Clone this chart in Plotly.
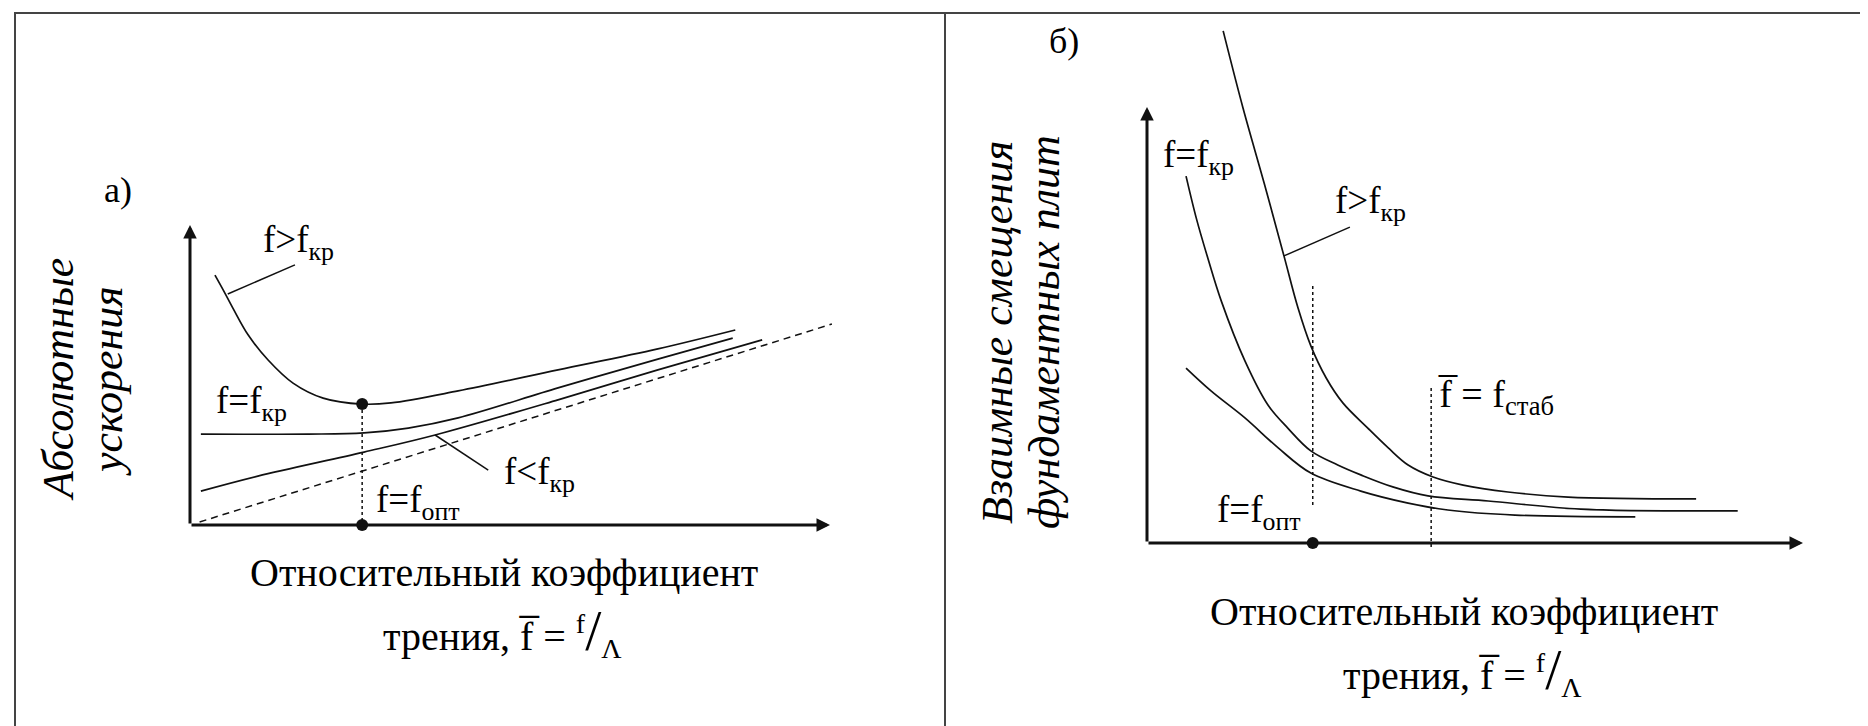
import plotly.graph_objects as go

W, H = 1868, 726

# ---------------- Panel а) : absolute accelerations vs relative friction ----------------
a_dash_x = [0.15, 10.03]
a_dash_y = [0.10, 6.70]
a_low_x = [0.17, 1.06, 2.72, 3.83, 5.75, 7.31, 8.94]
a_low_y = [1.13, 1.63, 2.43, 3.00, 4.17, 5.17, 6.17]
a_crit_x = [0.17, 1.84, 2.72, 3.41, 4.19, 5.75, 7.31, 8.48]
a_crit_y = [3.03, 3.03, 3.07, 3.23, 3.57, 4.57, 5.53, 6.23]
a_high_x = [0.39, 0.52, 0.67, 0.91, 1.22, 1.61, 2.08, 2.69, 3.14, 4.19, 5.75, 7.31, 8.52]
a_high_y = [8.33, 7.83, 7.23, 6.33, 5.50, 4.73, 4.23, 4.03, 4.07, 4.47, 5.17, 5.87, 6.50]
a_opt_x = 2.69
a_opt_y = 4.03
a_lead_high_x = [0.59, 1.64]
a_lead_high_y = [7.70, 8.67]
a_lead_low_x = [3.83, 4.66]
a_lead_low_y = [3.00, 1.83]
a_axis_x_end = 10.0
a_axis_y_end = 10.0

# ---------------- Panel б) : mutual displacements vs relative friction ----------------
b_high_x = [1.19, 1.50, 1.83, 2.14, 2.36, 2.56, 2.80, 3.06, 3.45, 3.77, 4.08, 4.47, 4.94, 5.64, 6.58, 8.58]
b_high_y = [17.07, 14.5, 12.0, 9.57, 7.83, 6.57, 5.50, 4.67, 3.83, 3.17, 2.60, 2.20, 1.93, 1.70, 1.53, 1.47]
b_crit_x = [0.61, 0.77, 0.95, 1.16, 1.53, 1.89, 2.20, 2.56, 2.98, 3.34, 3.84, 4.39, 5.33, 6.78, 9.23]
b_crit_y = [12.23, 10.83, 9.50, 8.07, 6.07, 4.60, 3.83, 3.07, 2.60, 2.27, 1.87, 1.57, 1.40, 1.13, 1.07]
b_low_x = [0.61, 1.00, 1.53, 2.05, 2.56, 3.34, 4.08, 4.70, 5.75, 7.63]
b_low_y = [5.83, 5.07, 4.17, 3.17, 2.33, 1.73, 1.33, 1.10, 0.93, 0.87]
b_opt_x = 2.59
b_opt_dot_top = [8.57, 1.27]
b_stab_x = 4.44
b_stab_span = [5.17, -0.17]
b_lead_high_x = [2.14, 3.17]
b_lead_high_y = [9.57, 10.53]
b_axis_x_end = 10.25
b_axis_y_end = 14.53

# ---------------- geometry of the two panels (pixels) ----------------
SX, SY = 64.0, 30.0
panels = {
    "a": dict(ox=182, oy=517, xr=[-0.5, 10.5], yr=[-0.5, 10.2]),
    "b": dict(ox=1139, oy=535, xr=[-0.5, 10.6], yr=[-0.6, 17.5]),
}

def dom(p):
    xd = [(p["ox"] + p["xr"][0] * SX) / W, (p["ox"] + p["xr"][1] * SX) / W]
    yd = [1 - (p["oy"] - p["yr"][0] * SY) / H, 1 - (p["oy"] - p["yr"][1] * SY) / H]
    return xd, yd

fig = go.Figure()
INK = "#111111"
LW = 1.7

def line(x, y, xa, ya, dash="solid", width=LW, shape="spline"):
    fig.add_trace(go.Scatter(x=x, y=y, mode="lines", xaxis=xa, yaxis=ya,
                             line=dict(color=INK, width=width, dash=dash, shape=shape, smoothing=1.0),
                             hoverinfo="skip", showlegend=False))

def dots(x, y, xa, ya):
    fig.add_trace(go.Scatter(x=x, y=y, mode="markers", xaxis=xa, yaxis=ya, cliponaxis=False,
                             marker=dict(color=INK, size=12), hoverinfo="skip", showlegend=False))

line(a_dash_x, a_dash_y, "x", "y", dash="7px,5px", width=1.5, shape="linear")
line(a_low_x, a_low_y, "x", "y")
line(a_crit_x, a_crit_y, "x", "y")
line(a_high_x, a_high_y, "x", "y")
line([a_opt_x, a_opt_x], [a_opt_y, 0], "x", "y", dash="dot", width=1.5, shape="linear")
line(a_lead_high_x, a_lead_high_y, "x", "y", width=1.5, shape="linear")
line(a_lead_low_x, a_lead_low_y, "x", "y", width=1.5, shape="linear")
dots([a_opt_x, a_opt_x], [a_opt_y, 0], "x", "y")

line(b_high_x, b_high_y, "x2", "y2")
line(b_crit_x, b_crit_y, "x2", "y2")
line(b_low_x, b_low_y, "x2", "y2")
line([b_opt_x, b_opt_x], b_opt_dot_top, "x2", "y2", dash="dot", width=1.5, shape="linear")
line([b_stab_x, b_stab_x], b_stab_span, "x2", "y2", dash="dot", width=1.5, shape="linear")
line(b_lead_high_x, b_lead_high_y, "x2", "y2", width=1.5, shape="linear")
dots([b_opt_x], [0], "x2", "y2")

anns = []
for xa, ya, xe, ye in [("x", "y", a_axis_x_end, a_axis_y_end), ("x2", "y2", b_axis_x_end, b_axis_y_end)]:
    anns.append(dict(x=xe, y=0, ax=0, ay=0, xref=xa, yref=ya, axref=xa, ayref=ya, text="",
                     showarrow=True, arrowhead=2, arrowsize=0.9, arrowwidth=3, arrowcolor=INK))
    anns.append(dict(x=0, y=ye, ax=0, ay=0, xref=xa, yref=ya, axref=xa, ayref=ya, text="",
                     showarrow=True, arrowhead=2, arrowsize=0.9, arrowwidth=3, arrowcolor=INK))

FONT = "Liberation Serif, DejaVu Serif, serif"

def txt(text, px, py, size, angle=0):
    anns.append(dict(text=text, x=px / W, y=1 - py / H, xref="paper", yref="paper", showarrow=False,
                     font=dict(family=FONT, size=size, color="black"), textangle=angle,
                     xanchor="center", yanchor="middle"))

LS = 37
# panel а)
txt("а)", 110, 182, 36)
txt("f&gt;f<sub>кр</sub>", 290, 234, LS)
txt("f=f<sub>кр</sub>", 243, 396, LS)
txt("f&lt;f<sub>кр</sub>", 531, 466, LS)
txt("f=f<sub>опт</sub>", 410, 495, LS)
txt("<i>Абсолютные</i>", 51, 372, 44, angle=-90)
txt("<i>ускорения</i>", 99, 373, 44, angle=-90)

# panel б)
txt("б)", 1056, 33, 36)
txt("f=f<sub>кр</sub>", 1190, 150, LS)
txt("f&gt;f<sub>кр</sub>", 1362, 195, LS)
txt("f=f<sub>опт</sub>", 1251, 504, LS)
txt("f\u0305 = f<sub>стаб</sub>", 1488, 389, 38)
txt("<i>Взаимные смещения</i>", 989, 324, 44, angle=-90)
txt("<i>фундаментных плит</i>", 1036, 324, 44, angle=-90)

LINE1 = "Относительный коэффициент"
LINE2 = "трения, f\u0305 = <sup>f</sup><span style='font-size:58px'>/</span><sub>Λ</sub>"

def xtitle(cx, cy):
    txt(LINE1, cx, cy, 40)
    txt(LINE2, cx - 2, cy + 59, 40)

xtitle(496, 564)
xtitle(1456, 603)

xd, yd = dom(panels["a"])
xd2, yd2 = dom(panels["b"])
ax_common = dict(visible=False, showgrid=False, zeroline=False)
fig.update_layout(
    width=W, height=H, margin=dict(l=0, r=0, t=0, b=0),
    paper_bgcolor="white", plot_bgcolor="white", showlegend=False,
    font=dict(family=FONT),
    xaxis=dict(domain=xd, range=panels["a"]["xr"], anchor="y", **ax_common),
    yaxis=dict(domain=yd, range=panels["a"]["yr"], anchor="x", **ax_common),
    xaxis2=dict(domain=xd2, range=panels["b"]["xr"], anchor="y2", **ax_common),
    yaxis2=dict(domain=yd2, range=panels["b"]["yr"], anchor="x2", **ax_common),
    annotations=anns,
    shapes=[
        dict(type="rect", xref="paper", yref="paper", x0=7 / W, x1=1862 / W, y0=1 - 722 / H, y1=1 - 5 / H,
             line=dict(color="#444444", width=2)),
        dict(type="line", xref="paper", yref="paper", x0=937 / W, x1=937 / W, y0=1 - 722 / H, y1=1 - 5 / H,
             line=dict(color="#444444", width=2)),
    ],
)

fig.write_html("out.html")
